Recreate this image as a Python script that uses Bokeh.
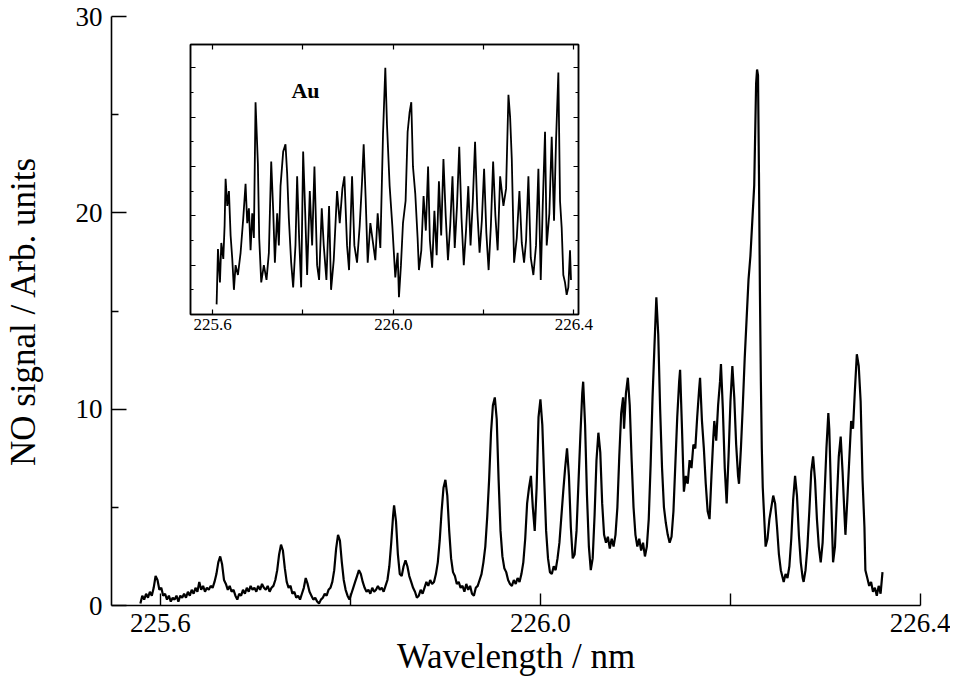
from bokeh.plotting import figure
from bokeh.models import Range1d, FixedTicker, CustomJSTickFormatter, LinearAxis, Label
from bokeh.embed import file_html
from bokeh.resources import INLINE

# ---------------- data ----------------
main_wl = [225.579, 225.581, 225.583, 225.585, 225.587, 225.589, 225.591, 225.593, 225.595, 225.597,
           225.599, 225.601, 225.603, 225.605, 225.607, 225.609, 225.611, 225.613, 225.615, 225.617,
           225.619, 225.621, 225.623, 225.625, 225.627, 225.629, 225.631, 225.633, 225.635, 225.637,
           225.639, 225.641, 225.643, 225.645, 225.647, 225.649, 225.651, 225.653, 225.655, 225.657,
           225.659, 225.661, 225.663, 225.665, 225.667, 225.669, 225.671, 225.673, 225.675, 225.677,
           225.679, 225.681, 225.683, 225.685, 225.687, 225.689, 225.691, 225.693, 225.695, 225.697,
           225.699, 225.701, 225.703, 225.705, 225.707, 225.709, 225.711, 225.713, 225.715, 225.717,
           225.719, 225.721, 225.723, 225.725, 225.727, 225.729, 225.731, 225.733, 225.735, 225.737,
           225.739, 225.741, 225.743, 225.745, 225.747, 225.749, 225.751, 225.753, 225.755, 225.757,
           225.759, 225.761, 225.763, 225.765, 225.767, 225.769, 225.771, 225.773, 225.775, 225.777,
           225.779, 225.781, 225.783, 225.785, 225.787, 225.789, 225.791, 225.793, 225.795, 225.797,
           225.799, 225.801, 225.803, 225.805, 225.807, 225.809, 225.811, 225.813, 225.815, 225.817,
           225.819, 225.821, 225.823, 225.825, 225.827, 225.829, 225.831, 225.833, 225.835, 225.837,
           225.839, 225.841, 225.843, 225.845, 225.846, 225.848, 225.850, 225.852, 225.854, 225.856,
           225.858, 225.860, 225.862, 225.864, 225.866, 225.868, 225.870, 225.872, 225.874, 225.876,
           225.878, 225.880, 225.882, 225.884, 225.886, 225.888, 225.890, 225.892, 225.894, 225.896,
           225.898, 225.900, 225.902, 225.904, 225.906, 225.908, 225.910, 225.912, 225.914, 225.916,
           225.918, 225.920, 225.922, 225.924, 225.926, 225.928, 225.930, 225.932, 225.934, 225.936,
           225.938, 225.940, 225.942, 225.944, 225.946, 225.948, 225.950, 225.952, 225.954, 225.956,
           225.958, 225.960, 225.962, 225.964, 225.966, 225.968, 225.970, 225.972, 225.974, 225.976,
           225.978, 225.980, 225.982, 225.984, 225.986, 225.988, 225.990, 225.992, 225.994, 225.996,
           225.998, 226.000, 226.002, 226.004, 226.006, 226.008, 226.010, 226.012, 226.014, 226.016,
           226.018, 226.020, 226.022, 226.024, 226.026, 226.028, 226.030, 226.032, 226.034, 226.036,
           226.038, 226.040, 226.042, 226.044, 226.045, 226.047, 226.049, 226.051, 226.053, 226.055,
           226.057, 226.059, 226.061, 226.063, 226.065, 226.067, 226.069, 226.071, 226.073, 226.075,
           226.077, 226.079, 226.081, 226.083, 226.085, 226.087, 226.088, 226.090, 226.092, 226.094,
           226.096, 226.098, 226.100, 226.102, 226.104, 226.106, 226.108, 226.110, 226.112, 226.114,
           226.116, 226.118, 226.120, 226.122, 226.124, 226.126, 226.128, 226.130, 226.132, 226.134,
           226.136, 226.138, 226.140, 226.142, 226.144, 226.146, 226.147, 226.149, 226.151, 226.153,
           226.155, 226.157, 226.159, 226.161, 226.163, 226.165, 226.167, 226.168, 226.170, 226.172,
           226.174, 226.176, 226.178, 226.180, 226.182, 226.183, 226.185, 226.187, 226.189, 226.190,
           226.192, 226.194, 226.196, 226.198, 226.200, 226.202, 226.204, 226.206, 226.208, 226.209,
           226.211, 226.213, 226.215, 226.217, 226.219, 226.221, 226.223, 226.225, 226.226, 226.227,
           226.228, 226.229, 226.230, 226.231, 226.232, 226.233, 226.234, 226.236, 226.237, 226.239,
           226.241, 226.243, 226.245, 226.247, 226.249, 226.251, 226.253, 226.255, 226.256, 226.258,
           226.260, 226.262, 226.264, 226.266, 226.268, 226.270, 226.272, 226.274, 226.276, 226.277,
           226.279, 226.281, 226.283, 226.285, 226.287, 226.289, 226.291, 226.293, 226.295, 226.297,
           226.299, 226.301, 226.303, 226.304, 226.306, 226.308, 226.310, 226.312, 226.314, 226.316,
           226.318, 226.320, 226.321, 226.323, 226.325, 226.327, 226.329, 226.331, 226.333, 226.335,
           226.337, 226.339, 226.341, 226.342, 226.344, 226.346, 226.348, 226.350, 226.352, 226.354,
           226.356, 226.358, 226.360]

main_signal = [0.1, 0.5, 0.3, 0.6, 0.4, 0.7, 0.5, 0.9, 1.5, 1.3,
               0.8, 0.9, 0.5, 0.6, 0.3, 0.5, 0.2, 0.4, 0.3, 0.5,
               0.2, 0.5, 0.4, 0.6, 0.4, 0.7, 0.5, 0.8, 0.6, 0.9,
               0.7, 1.2, 0.8, 1.0, 0.7, 0.9, 0.8, 1.0, 0.9, 1.2,
               1.6, 2.2, 2.5, 2.1, 1.3, 1.1, 0.8, 1.0, 0.7, 0.8,
               0.5, 0.3, 0.6, 0.5, 0.8, 0.6, 0.9, 0.7, 1.0, 0.8,
               0.9, 0.7, 1.0, 0.8, 1.1, 0.9, 0.8, 1.0, 0.7, 0.9,
               1.0, 1.3, 1.8, 2.6, 3.1, 2.8, 1.9, 1.2, 0.9, 1.0,
               0.6, 0.7, 0.4, 0.5, 0.3, 0.6, 0.9, 1.4, 1.1, 0.7,
               0.5, 0.3, 0.4, 0.2, 0.1, 0.3, 0.4, 0.6, 0.5, 0.8,
               0.9, 1.2, 1.8, 2.9, 3.6, 3.3, 2.2, 1.3, 0.8, 0.5,
               0.3, 0.6, 0.9, 1.2, 1.5, 1.8, 1.6, 1.2, 0.9, 0.7,
               0.8, 0.6, 0.9, 0.7, 0.8, 1.0, 0.8, 0.9, 0.7, 1.0,
               1.3, 2.0, 3.2, 4.6, 5.1, 4.3, 2.6, 1.6, 1.5, 2.0,
               2.3, 2.0, 1.5, 1.2, 0.9, 0.7, 0.4, 0.5, 0.8, 0.6,
               0.9, 1.2, 1.0, 1.3, 1.1, 1.2, 1.6, 2.2, 3.3, 4.8,
               6.0, 6.4, 5.6, 3.8, 2.4, 1.7, 1.5, 1.1, 1.2, 0.9,
               1.0, 0.7, 1.1, 0.8, 1.0, 0.6, 0.5, 0.9, 1.0, 1.3,
               1.6, 2.2, 3.0, 4.5, 6.4, 8.8, 10.2, 10.6, 9.5, 6.4,
               3.8, 2.5, 1.9, 1.7, 1.3, 1.1, 1.0, 1.3, 1.1, 1.4,
               1.2, 1.6, 2.2, 3.4, 5.2, 6.0, 6.6, 5.0, 3.8, 6.0,
               9.6, 10.5, 9.2, 6.4, 3.8, 2.4, 1.7, 1.6, 2.0, 1.8,
               2.4, 3.2, 4.5, 5.8, 7.0, 8.0, 6.6, 4.0, 2.4, 2.6,
               3.8, 6.2, 8.6, 10.8, 11.4, 9.2, 5.6, 3.0, 1.8, 2.4,
               4.6, 7.4, 8.8, 7.8, 5.2, 3.6, 3.2, 3.5, 2.9, 3.4,
               3.0, 3.6, 5.0, 7.6, 9.8, 10.6, 9.0, 10.8, 11.6, 10.2,
               7.4, 5.0, 3.6, 3.0, 3.4, 2.8, 3.2, 2.5, 3.0, 4.4,
               7.2, 10.6, 13.2, 15.7, 13.8, 10.0, 7.0, 5.0, 4.2, 3.6,
               3.2, 3.5, 4.8, 7.2, 9.6, 11.4, 12.0, 9.0, 5.8, 6.6,
               6.2, 7.4, 7.0, 8.2, 8.0, 9.6, 11.0, 11.6, 9.4, 8.0,
               6.2, 4.8, 4.4, 6.6, 8.6, 9.4, 8.4, 10.2, 11.4, 12.3,
               10.0, 7.0, 5.2, 7.6, 10.4, 12.2, 10.6, 8.2, 6.6, 6.2,
               8.0, 10.2, 12.6, 14.6, 16.6, 17.8, 19.6, 21.4, 24.0, 26.6,
               27.3, 27.0, 22.0, 16.0, 11.4, 8.0, 6.0, 4.0, 3.0, 3.4,
               4.4, 5.0, 5.6, 5.2, 4.0, 2.6, 1.8, 1.4, 1.2, 1.6,
               1.4, 2.0, 3.4, 5.4, 6.6, 5.6, 3.6, 2.2, 1.4, 1.2,
               1.8, 3.0, 4.8, 6.8, 7.6, 6.4, 4.4, 3.0, 2.2, 3.2,
               5.6, 8.0, 9.8, 9.0, 5.4, 2.2, 3.0, 5.4, 7.6, 8.6,
               6.8, 4.6, 3.6, 5.4, 7.4, 9.4, 9.0, 11.0, 12.8, 12.2,
               10.4, 6.4, 4.0, 1.8, 1.4, 1.0, 1.2, 0.7, 0.9, 0.5,
               1.0, 0.6, 1.7]

inset_wl = [225.6088, 225.6118, 225.6162, 225.6192, 225.6236, 225.6265, 225.6287, 225.6324, 225.6361, 225.6398,
            225.6435, 225.6471, 225.6508, 225.6560, 225.6619, 225.6678, 225.6729, 225.6766, 225.6803, 225.6840,
            225.6877, 225.6913, 225.6950, 225.7002, 225.7031, 225.7076, 225.7134, 225.7193, 225.7245, 225.7297,
            225.7341, 225.7378, 225.7429, 225.7466, 225.7503, 225.7562, 225.7613, 225.7650, 225.7687, 225.7739,
            225.7783, 225.7834, 225.7871, 225.7915, 225.7960, 225.8004, 225.8048, 225.8092, 225.8151, 225.8203,
            225.8254, 225.8313, 225.8357, 225.8416, 225.8460, 225.8519, 225.8578, 225.8622, 225.8681, 225.8755,
            225.8814, 225.8873, 225.8917, 225.8976, 225.9020, 225.9087, 225.9138, 225.9197, 225.9256, 225.9308,
            225.9344, 225.9388, 225.9433, 225.9492, 225.9543, 225.9602, 225.9654, 225.9713, 225.9772, 225.9823,
            225.9860, 225.9919, 225.9978, 226.0044, 226.0096, 226.0125, 226.0169, 226.0214, 226.0272, 226.0317,
            226.0361, 226.0398, 226.0435, 226.0486, 226.0538, 226.0567,
            226.062, 226.067, 226.072, 226.077, 226.081, 226.086, 226.091, 226.096, 226.101, 226.106,
            226.111, 226.116, 226.121, 226.126, 226.131, 226.136, 226.141, 226.146, 226.151, 226.156,
            226.161, 226.166, 226.171, 226.176, 226.181, 226.186, 226.191, 226.196, 226.201, 226.206,
            226.211, 226.216, 226.221, 226.226, 226.231,
            226.2365, 226.2438, 226.2497, 226.2549, 226.2586, 226.2623, 226.2674, 226.2733, 226.2792, 226.2844,
            226.2895, 226.2939, 226.2991, 226.3043, 226.3101, 226.3160, 226.3212, 226.3264, 226.3308, 226.3359,
            226.3396, 226.3455, 226.3507, 226.3558, 226.3602, 226.3654, 226.3691, 226.3728, 226.3764, 226.3801,
            226.3838, 226.3875, 226.3912, 226.3934]

inset_signal = [0.41, 2.65, 1.3, 2.9, 2.25, 3.6, 5.5, 4.4, 5.0, 3.2,
                2.25, 1.0, 2.0, 1.6, 2.5, 3.9, 5.3, 3.7, 4.3, 2.6,
                4.1, 3.1, 8.6, 6.1, 3.1, 1.3, 2.0, 1.4, 2.5, 6.2,
                4.2, 2.1, 4.1, 2.8, 5.2, 6.6, 6.9, 5.7, 3.9, 2.1,
                1.1, 2.8, 5.6, 3.1, 1.1, 6.6, 4.2, 1.6, 5.0, 2.8,
                6.0, 2.0, 1.4, 4.3, 2.8, 1.4, 4.4, 1.0, 2.2, 5.0,
                3.7, 5.1, 5.6, 2.8, 1.8, 5.6, 2.8, 2.1, 3.6, 5.4,
                6.9, 4.7, 2.1, 3.7, 3.0, 2.2, 4.1, 2.7, 7.3, 10.0,
                7.7, 5.2, 3.6, 1.5, 2.5, 0.7, 2.0, 3.7, 4.6, 7.4,
                8.2, 8.6, 6.0, 4.9, 3.1, 1.8,
                2.6, 4.8, 3.4, 6.0, 3.0, 1.9, 4.2, 2.4, 5.4, 3.2,
                6.3, 4.0, 2.2, 3.6, 5.6, 2.7, 4.4, 6.8, 3.9, 2.0,
                3.4, 5.2, 2.8, 4.6, 7.0, 4.2, 2.5, 3.8, 5.9, 3.3,
                1.8, 3.6, 6.2, 4.0, 2.6,
                5.6, 4.4, 5.1, 8.9, 8.0, 6.3, 2.1, 3.1, 5.0, 2.9,
                2.1, 3.0, 5.6, 2.3, 1.6, 2.8, 5.9, 1.4, 4.4, 7.4,
                2.8, 4.1, 7.2, 3.8, 7.0, 9.8, 4.6, 3.5, 1.6, 1.3,
                0.8, 1.1, 2.6, 1.4]

main_xticks = [225.6, 226.0, 226.4]
main_xminor = [225.8, 226.2]
main_yticks = [0, 10, 20, 30]
main_yminor = [5, 15, 25]
inset_xticks = [225.6, 226.0, 226.4]
inset_xminor = [225.8, 226.2]
inset_yticks = [0, 2, 4, 6, 8, 10]
inset_yminor = [1, 3, 5, 7, 9]

FONT = "Liberation Serif"

# ---------------- main plot ----------------
p = figure(width=950, height=684,
           x_range=Range1d(225.5486, 226.4), y_range=Range1d(0, 30),
           output_backend="svg", toolbar_location=None,
           min_border_left=108, min_border_right=30, min_border_top=16, min_border_bottom=79)
p.outline_line_color = None
p.grid.visible = False
p.background_fill_color = "white"

p.line(main_wl, main_signal, line_color="black", line_width=2.2)

xa = p.xaxis[0]
xa.ticker = FixedTicker(ticks=main_xticks, minor_ticks=main_xminor)
xa.formatter = CustomJSTickFormatter(code="return tick.toFixed(1);")
xa.axis_label = "Wavelength / nm"
ya = p.yaxis[0]
ya.ticker = FixedTicker(ticks=main_yticks, minor_ticks=main_yminor)
ya.axis_label = "NO signal / Arb. units"

for ax in (xa, ya):
    ax.axis_line_width = 1.6
    ax.axis_line_color = "black"
    ax.major_tick_out = 0
    ax.minor_tick_out = 0
    ax.major_tick_line_width = 1.4
    ax.minor_tick_line_width = 1.4
    ax.major_label_text_font = FONT
    ax.major_label_text_font_size = "27px"
    ax.major_label_text_color = "black"
    ax.axis_label_text_font = FONT
    ax.axis_label_text_font_size = "35px"
    ax.axis_label_text_font_style = "normal"
    ax.axis_label_text_color = "black"

xa.major_tick_in = 12
xa.minor_tick_in = 12
xa.major_label_standoff = 8
xa.axis_label_standoff = 2
ya.major_tick_in = 15
ya.minor_tick_in = 7
ya.major_label_standoff = 9
ya.axis_label_standoff = 30

# ---------------- inset ----------------
inset = figure(width=410, height=300,
               x_range=Range1d(225.551, 226.41), y_range=Range1d(0, 10.94),
               output_backend="svg", toolbar_location=None,
               min_border_left=2, min_border_right=20, min_border_top=2, min_border_bottom=28,
               styles={"position": "absolute", "left": "188px", "top": "42px"})
inset.grid.visible = False
inset.outline_line_color = "black"
inset.outline_line_width = 1.5
inset.border_fill_alpha = 0.0

inset.line(inset_wl, inset_signal, line_color="black", line_width=1.8)

inset.add_layout(LinearAxis(), "above")
inset.add_layout(LinearAxis(), "right")

for ax in inset.xaxis:
    ax.ticker = FixedTicker(ticks=inset_xticks, minor_ticks=inset_xminor)
    ax.major_tick_in = 5
    ax.minor_tick_in = 5
for ax in inset.yaxis:
    ax.ticker = FixedTicker(ticks=inset_yticks, minor_ticks=inset_yminor)
    ax.major_tick_in = 5
    ax.minor_tick_in = 3
for ax in list(inset.xaxis) + list(inset.yaxis):
    ax.axis_line_width = 1.5
    ax.major_tick_out = 0
    ax.minor_tick_out = 0
    ax.major_tick_line_width = 1.2
    ax.minor_tick_line_width = 1.2
    ax.major_label_text_font = FONT
    ax.major_label_text_color = "black"

bx = inset.below[0]
bx.formatter = CustomJSTickFormatter(code="return tick.toFixed(1);")
bx.major_label_text_font_size = "17px"
bx.major_label_standoff = 4
for ax in (inset.above[0], inset.left[0], inset.right[0]):
    ax.major_label_text_color = None
    ax.major_label_text_font_size = "1px"
    ax.major_label_standoff = 0

inset.add_layout(Label(x=225.8055, y=9.06, text="Au", text_font=FONT, text_font_size="22px",
                       text_font_style="bold", text_align="center", text_baseline="middle",
                       text_color="black"))

open("out.html", "w").write(file_html([p, inset], INLINE))
